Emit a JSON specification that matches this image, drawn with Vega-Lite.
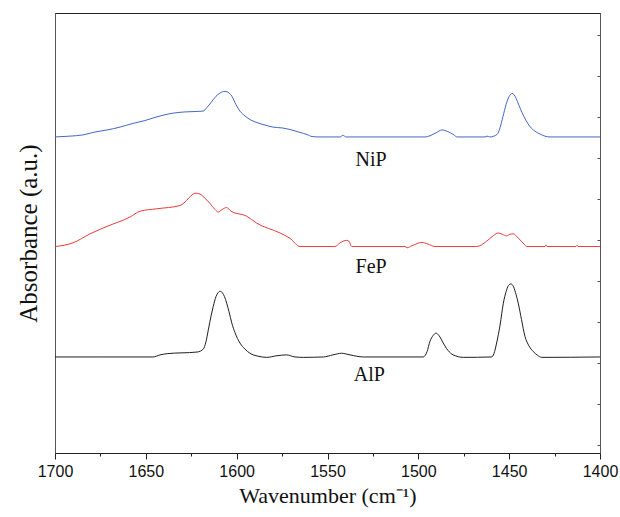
{
  "$schema": "https://vega.github.io/schema/vega-lite/v6.json",
  "width": 545,
  "height": 440,
  "autosize": {"type": "none"},
  "padding": {"left": 55, "top": 13, "right": 20, "bottom": 64},
  "background": "white",
  "config": {"view": {"stroke": "#222", "strokeWidth": 1}},
  "datasets": {
    "spectra": [
      {"sample": "NiP", "wn": 1700, "a": 7.51}, {"sample": "NiP", "wn": 1691.7, "a": 7.53}, {"sample": "NiP", "wn": 1684.6, "a": 7.56}, {"sample": "NiP", "wn": 1678.0, "a": 7.63}, {"sample": "NiP", "wn": 1671.4, "a": 7.68}, {"sample": "NiP", "wn": 1664.2, "a": 7.75}, {"sample": "NiP", "wn": 1657.1, "a": 7.84}, {"sample": "NiP", "wn": 1650.5, "a": 7.91}, {"sample": "NiP", "wn": 1646.1, "a": 7.97}, {"sample": "NiP", "wn": 1640.5, "a": 8.04}, {"sample": "NiP", "wn": 1635.0, "a": 8.09}, {"sample": "NiP", "wn": 1628.4, "a": 8.12}, {"sample": "NiP", "wn": 1622.9, "a": 8.13}, {"sample": "NiP", "wn": 1618.5, "a": 8.14}, {"sample": "NiP", "wn": 1616.3, "a": 8.23}, {"sample": "NiP", "wn": 1614.1, "a": 8.35}, {"sample": "NiP", "wn": 1611.4, "a": 8.50}, {"sample": "NiP", "wn": 1609.2, "a": 8.58}, {"sample": "NiP", "wn": 1606.4, "a": 8.62}, {"sample": "NiP", "wn": 1604.2, "a": 8.58}, {"sample": "NiP", "wn": 1602.6, "a": 8.50}, {"sample": "NiP", "wn": 1600.4, "a": 8.30}, {"sample": "NiP", "wn": 1598.2, "a": 8.14}, {"sample": "NiP", "wn": 1595.4, "a": 8.02}, {"sample": "NiP", "wn": 1592.1, "a": 7.92}, {"sample": "NiP", "wn": 1588.8, "a": 7.86}, {"sample": "NiP", "wn": 1584.4, "a": 7.80}, {"sample": "NiP", "wn": 1580.0, "a": 7.75}, {"sample": "NiP", "wn": 1575.0, "a": 7.73}, {"sample": "NiP", "wn": 1570.6, "a": 7.69}, {"sample": "NiP", "wn": 1565.1, "a": 7.62}, {"sample": "NiP", "wn": 1561.3, "a": 7.57}, {"sample": "NiP", "wn": 1558.5, "a": 7.52}, {"sample": "NiP", "wn": 1554.1, "a": 7.51}, {"sample": "NiP", "wn": 1543.1, "a": 7.51}, {"sample": "NiP", "wn": 1541.5, "a": 7.55}, {"sample": "NiP", "wn": 1539.8, "a": 7.51}, {"sample": "NiP", "wn": 1496.3, "a": 7.51}, {"sample": "NiP", "wn": 1493.6, "a": 7.54}, {"sample": "NiP", "wn": 1490.3, "a": 7.61}, {"sample": "NiP", "wn": 1487.0, "a": 7.68}, {"sample": "NiP", "wn": 1483.7, "a": 7.64}, {"sample": "NiP", "wn": 1480.4, "a": 7.56}, {"sample": "NiP", "wn": 1478.7, "a": 7.51}, {"sample": "NiP", "wn": 1463.3, "a": 7.51}, {"sample": "NiP", "wn": 1462.2, "a": 7.53}, {"sample": "NiP", "wn": 1460.6, "a": 7.51}, {"sample": "NiP", "wn": 1456.7, "a": 7.57}, {"sample": "NiP", "wn": 1455.0, "a": 7.74}, {"sample": "NiP", "wn": 1453.4, "a": 8.01}, {"sample": "NiP", "wn": 1451.7, "a": 8.30}, {"sample": "NiP", "wn": 1450.1, "a": 8.49}, {"sample": "NiP", "wn": 1448.4, "a": 8.57}, {"sample": "NiP", "wn": 1447.3, "a": 8.54}, {"sample": "NiP", "wn": 1446.2, "a": 8.45}, {"sample": "NiP", "wn": 1444.6, "a": 8.28}, {"sample": "NiP", "wn": 1442.9, "a": 8.10}, {"sample": "NiP", "wn": 1440.7, "a": 7.91}, {"sample": "NiP", "wn": 1438.5, "a": 7.76}, {"sample": "NiP", "wn": 1435.8, "a": 7.65}, {"sample": "NiP", "wn": 1433.0, "a": 7.58}, {"sample": "NiP", "wn": 1430.3, "a": 7.53}, {"sample": "NiP", "wn": 1427.5, "a": 7.51}, {"sample": "NiP", "wn": 1400, "a": 7.51},

      {"sample": "FeP", "wn": 1700, "a": 4.84}, {"sample": "FeP", "wn": 1690.1, "a": 4.93}, {"sample": "FeP", "wn": 1680.7, "a": 5.15}, {"sample": "FeP", "wn": 1671.4, "a": 5.33}, {"sample": "FeP", "wn": 1658.7, "a": 5.56}, {"sample": "FeP", "wn": 1653.2, "a": 5.70}, {"sample": "FeP", "wn": 1643.9, "a": 5.76}, {"sample": "FeP", "wn": 1631.2, "a": 5.84}, {"sample": "FeP", "wn": 1629.0, "a": 5.90}, {"sample": "FeP", "wn": 1626.2, "a": 6.03}, {"sample": "FeP", "wn": 1622.9, "a": 6.14}, {"sample": "FeP", "wn": 1620.2, "a": 6.12}, {"sample": "FeP", "wn": 1618.0, "a": 6.04}, {"sample": "FeP", "wn": 1614.7, "a": 5.89}, {"sample": "FeP", "wn": 1611.9, "a": 5.74}, {"sample": "FeP", "wn": 1610.1, "a": 5.68}, {"sample": "FeP", "wn": 1608.1, "a": 5.74}, {"sample": "FeP", "wn": 1605.5, "a": 5.79}, {"sample": "FeP", "wn": 1603.1, "a": 5.70}, {"sample": "FeP", "wn": 1594.5, "a": 5.58}, {"sample": "FeP", "wn": 1589.0, "a": 5.41}, {"sample": "FeP", "wn": 1576.1, "a": 5.17}, {"sample": "FeP", "wn": 1570.6, "a": 5.04}, {"sample": "FeP", "wn": 1565.1, "a": 4.84}, {"sample": "FeP", "wn": 1545.9, "a": 4.84}, {"sample": "FeP", "wn": 1543.1, "a": 4.93}, {"sample": "FeP", "wn": 1539.4, "a": 4.99}, {"sample": "FeP", "wn": 1538.2, "a": 4.97}, {"sample": "FeP", "wn": 1536.7, "a": 4.84}, {"sample": "FeP", "wn": 1507.3, "a": 4.84}, {"sample": "FeP", "wn": 1506.2, "a": 4.81}, {"sample": "FeP", "wn": 1503.5, "a": 4.86}, {"sample": "FeP", "wn": 1498.1, "a": 4.94}, {"sample": "FeP", "wn": 1494.7, "a": 4.90}, {"sample": "FeP", "wn": 1490.8, "a": 4.84}, {"sample": "FeP", "wn": 1467.9, "a": 4.84}, {"sample": "FeP", "wn": 1462.4, "a": 4.97}, {"sample": "FeP", "wn": 1459.4, "a": 5.08}, {"sample": "FeP", "wn": 1456.0, "a": 5.17}, {"sample": "FeP", "wn": 1453.9, "a": 5.14}, {"sample": "FeP", "wn": 1451.4, "a": 5.10}, {"sample": "FeP", "wn": 1449.5, "a": 5.14}, {"sample": "FeP", "wn": 1447.7, "a": 5.15}, {"sample": "FeP", "wn": 1445.7, "a": 5.08}, {"sample": "FeP", "wn": 1444.0, "a": 5.00}, {"sample": "FeP", "wn": 1441.8, "a": 4.90}, {"sample": "FeP", "wn": 1440.2, "a": 4.84}, {"sample": "FeP", "wn": 1430.3, "a": 4.84}, {"sample": "FeP", "wn": 1429.7, "a": 4.88}, {"sample": "FeP", "wn": 1429.2, "a": 4.84}, {"sample": "FeP", "wn": 1413.2, "a": 4.84}, {"sample": "FeP", "wn": 1412.6, "a": 4.87}, {"sample": "FeP", "wn": 1412.1, "a": 4.84}, {"sample": "FeP", "wn": 1400, "a": 4.84},

      {"sample": "AlP", "wn": 1700, "a": 2.15}, {"sample": "AlP", "wn": 1675.2, "a": 2.15}, {"sample": "AlP", "wn": 1646.1, "a": 2.15}, {"sample": "AlP", "wn": 1642.2, "a": 2.20}, {"sample": "AlP", "wn": 1638.3, "a": 2.23}, {"sample": "AlP", "wn": 1621.8, "a": 2.27}, {"sample": "AlP", "wn": 1618.4, "a": 2.34}, {"sample": "AlP", "wn": 1616.9, "a": 2.52}, {"sample": "AlP", "wn": 1615.6, "a": 2.81}, {"sample": "AlP", "wn": 1614.1, "a": 3.15}, {"sample": "AlP", "wn": 1612.9, "a": 3.38}, {"sample": "AlP", "wn": 1611.4, "a": 3.62}, {"sample": "AlP", "wn": 1610.3, "a": 3.71}, {"sample": "AlP", "wn": 1609.2, "a": 3.75}, {"sample": "AlP", "wn": 1607.8, "a": 3.71}, {"sample": "AlP", "wn": 1606.7, "a": 3.62}, {"sample": "AlP", "wn": 1605.5, "a": 3.46}, {"sample": "AlP", "wn": 1604.2, "a": 3.25}, {"sample": "AlP", "wn": 1602.7, "a": 2.98}, {"sample": "AlP", "wn": 1600.9, "a": 2.74}, {"sample": "AlP", "wn": 1598.2, "a": 2.49}, {"sample": "AlP", "wn": 1595.4, "a": 2.34}, {"sample": "AlP", "wn": 1592.7, "a": 2.24}, {"sample": "AlP", "wn": 1588.3, "a": 2.17}, {"sample": "AlP", "wn": 1583.5, "a": 2.14}, {"sample": "AlP", "wn": 1577.8, "a": 2.18}, {"sample": "AlP", "wn": 1572.5, "a": 2.20}, {"sample": "AlP", "wn": 1567.9, "a": 2.15}, {"sample": "AlP", "wn": 1563.3, "a": 2.14}, {"sample": "AlP", "wn": 1552.3, "a": 2.15}, {"sample": "AlP", "wn": 1547.0, "a": 2.20}, {"sample": "AlP", "wn": 1542.2, "a": 2.24}, {"sample": "AlP", "wn": 1537.6, "a": 2.20}, {"sample": "AlP", "wn": 1530.3, "a": 2.15}, {"sample": "AlP", "wn": 1497.3, "a": 2.15}, {"sample": "AlP", "wn": 1495.2, "a": 2.28}, {"sample": "AlP", "wn": 1493.6, "a": 2.53}, {"sample": "AlP", "wn": 1491.9, "a": 2.67}, {"sample": "AlP", "wn": 1490.3, "a": 2.73}, {"sample": "AlP", "wn": 1488.6, "a": 2.67}, {"sample": "AlP", "wn": 1486.3, "a": 2.49}, {"sample": "AlP", "wn": 1483.7, "a": 2.31}, {"sample": "AlP", "wn": 1480.8, "a": 2.20}, {"sample": "AlP", "wn": 1475.2, "a": 2.14}, {"sample": "AlP", "wn": 1459.6, "a": 2.15}, {"sample": "AlP", "wn": 1458.4, "a": 2.23}, {"sample": "AlP", "wn": 1456.9, "a": 2.49}, {"sample": "AlP", "wn": 1455.0, "a": 2.93}, {"sample": "AlP", "wn": 1453.2, "a": 3.46}, {"sample": "AlP", "wn": 1451.7, "a": 3.74}, {"sample": "AlP", "wn": 1450.4, "a": 3.89}, {"sample": "AlP", "wn": 1449.0, "a": 3.93}, {"sample": "AlP", "wn": 1447.6, "a": 3.86}, {"sample": "AlP", "wn": 1446.2, "a": 3.67}, {"sample": "AlP", "wn": 1445.0, "a": 3.46}, {"sample": "AlP", "wn": 1443.2, "a": 3.06}, {"sample": "AlP", "wn": 1441.3, "a": 2.65}, {"sample": "AlP", "wn": 1439.1, "a": 2.42}, {"sample": "AlP", "wn": 1436.7, "a": 2.28}, {"sample": "AlP", "wn": 1434.4, "a": 2.19}, {"sample": "AlP", "wn": 1432.1, "a": 2.14}, {"sample": "AlP", "wn": 1400, "a": 2.15}
    ],
    "labels": [
      {"label": "NiP", "wn": 1526, "a": 6.96},
      {"label": "FeP", "wn": 1526, "a": 4.33},
      {"label": "AlP", "wn": 1527, "a": 1.72}
    ]
  },
  "layer": [
    {
      "data": {"name": "spectra"},
      "mark": {"type": "line", "strokeWidth": 1, "interpolate": "monotone"},
      "encoding": {
        "x": {
          "field": "wn", "type": "quantitative",
          "scale": {"domain": [1400, 1700], "reverse": true, "nice": false, "zero": false},
          "axis": {
            "values": [1400, 1450, 1500, 1550, 1600, 1650, 1700], "format": "d",
            "orient": "bottom", "grid": false, "labelFlush": false, "labelOverlap": false,
            "domainColor": "#222", "tickColor": "#222", "tickSize": 6,
            "labelFont": "Liberation Sans", "labelFontSize": 16, "labelColor": "#111", "labelPadding": 4,
            "title": "Wavenumber (cm⁻¹)", "titleFont": "Liberation Serif", "titleFontSize": 22,
            "titleFontWeight": "normal", "titleColor": "#111", "titlePadding": 6
          }
        },
        "y": {
          "field": "a", "type": "quantitative",
          "scale": {"domain": [-0.19, 10.53], "nice": false, "zero": false},
          "axis": {
            "orient": "left", "grid": false, "ticks": false, "labels": false,
            "domainColor": "#555",
            "title": "Absorbance (a.u.)", "titleFont": "Liberation Serif", "titleFontSize": 25,
            "titleFontWeight": "normal", "titleColor": "#111", "titlePadding": 14
          }
        },
        "color": {
          "field": "sample", "type": "nominal",
          "scale": {"domain": ["NiP", "FeP", "AlP"], "range": ["#4566c4", "#ee3a3a", "#1f1f1f"]},
          "legend": null
        },
        "order": {"field": "wn", "type": "quantitative", "sort": "descending"}
      }
    },
    {
      "data": {"name": "labels"},
      "mark": {"type": "text", "font": "Liberation Serif", "fontSize": 20, "color": "#111", "align": "center", "baseline": "middle"},
      "encoding": {
        "x": {
          "field": "wn", "type": "quantitative",
          "axis": {
            "values": [1425, 1475, 1525, 1575, 1625, 1675],
            "orient": "bottom", "grid": false, "labels": false, "domain": false,
            "tickColor": "#222", "tickSize": 3, "title": null
          }
        },
        "y": {
          "field": "a", "type": "quantitative",
          "axis": {
            "orient": "right", "grid": false, "labels": false, "title": null,
            "values": [0, 1, 2, 3, 4, 5, 6, 7, 8, 9, 10],
            "domainColor": "#555", "tickColor": "#555", "tickSize": -3
          }
        },
        "text": {"field": "label", "type": "nominal"}
      }
    }
  ],
  "resolve": {"axis": {"x": "independent", "y": "independent"}}
}
